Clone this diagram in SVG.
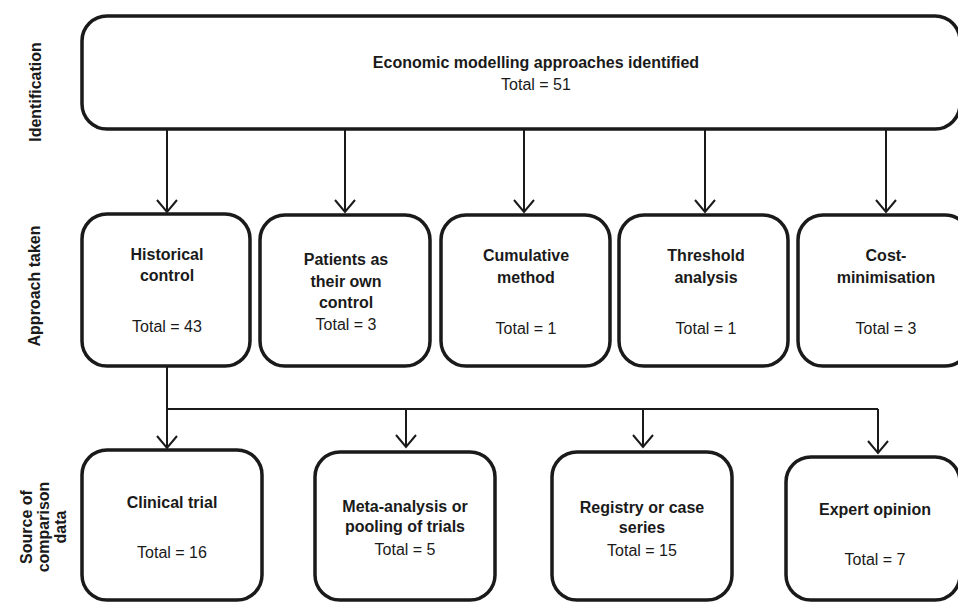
<svg xmlns="http://www.w3.org/2000/svg" width="958" height="603" viewBox="0 0 958 603">
<defs>
<style>
.box{fill:#fff;stroke:#1a1a1a;stroke-width:3.5}
.ln{fill:none;stroke:#1a1a1a;stroke-width:2}
text{font-family:"Liberation Sans",Arial,sans-serif;font-size:16px;fill:#1a1a1a;text-anchor:middle}
.b{font-weight:bold}
</style>
<marker id="ah" viewBox="0 0 16 24" refX="14" refY="12" markerWidth="16" markerHeight="24" markerUnits="userSpaceOnUse" orient="auto">
<path d="M2,2 L14,12 L2,22" fill="none" stroke="#1a1a1a" stroke-width="2"/>
</marker>
</defs>
<rect width="958" height="603" fill="#fff"/>
<g id="side-labels">
<text class="b" transform="translate(41,92) rotate(-90)">Identification</text>
<text class="b" transform="translate(40,286) rotate(-90)">Approach taken</text>
<text class="b" transform="translate(32,527) rotate(-90)">Source of</text>
<text class="b" transform="translate(49,527) rotate(-90)">comparison</text>
<text class="b" transform="translate(66,527) rotate(-90)">data</text>
</g>
<g id="connectors">
<line class="ln" x1="167" y1="129" x2="167" y2="212" marker-end="url(#ah)"/>
<line class="ln" x1="345" y1="129" x2="345" y2="212" marker-end="url(#ah)"/>
<line class="ln" x1="524" y1="129" x2="524" y2="212" marker-end="url(#ah)"/>
<line class="ln" x1="705" y1="129" x2="705" y2="212" marker-end="url(#ah)"/>
<line class="ln" x1="886" y1="129" x2="886" y2="212" marker-end="url(#ah)"/>
<polyline class="ln" points="167,366 167,409 878,409"/>
<line class="ln" x1="167" y1="409" x2="167" y2="448" marker-end="url(#ah)"/>
<line class="ln" x1="406" y1="409" x2="406" y2="447" marker-end="url(#ah)"/>
<line class="ln" x1="643" y1="409" x2="643" y2="447" marker-end="url(#ah)"/>
<line class="ln" x1="878" y1="409" x2="878" y2="453" marker-end="url(#ah)"/>
</g>
<g id="n-identified">
<rect class="box" x="82" y="16" width="878" height="113" rx="25"/>
<text class="b" x="536" y="68">Economic modelling approaches identified</text>
<text x="536" y="90">Total = 51</text>
</g>
<g id="n-historical">
<rect class="box" x="82" y="214" width="168" height="152" rx="25"/>
<text class="b" x="167" y="260">Historical</text>
<text class="b" x="167" y="281">control</text>
<text x="167" y="332">Total = 43</text>
</g>
<g id="n-patients">
<rect class="box" x="260" y="215" width="170" height="151" rx="25"/>
<text class="b" x="346" y="265">Patients as</text>
<text class="b" x="346" y="287">their own</text>
<text class="b" x="346" y="308">control</text>
<text x="346" y="330">Total = 3</text>
</g>
<g id="n-cumulative">
<rect class="box" x="441" y="215" width="169" height="151" rx="25"/>
<text class="b" x="526" y="261">Cumulative</text>
<text class="b" x="526" y="283">method</text>
<text x="526" y="334">Total = 1</text>
</g>
<g id="n-threshold">
<rect class="box" x="619" y="215" width="169" height="151" rx="25"/>
<text class="b" x="706" y="261">Threshold</text>
<text class="b" x="706" y="283">analysis</text>
<text x="706" y="334">Total = 1</text>
</g>
<g id="n-costmin">
<rect class="box" x="798" y="215" width="172" height="151" rx="25"/>
<text class="b" x="886" y="261">Cost-</text>
<text class="b" x="886" y="283">minimisation</text>
<text x="886" y="334">Total = 3</text>
</g>
<g id="n-clinical">
<rect class="box" x="82" y="450" width="180" height="150" rx="25"/>
<text class="b" x="172" y="508">Clinical trial</text>
<text x="172" y="558">Total = 16</text>
</g>
<g id="n-meta">
<rect class="box" x="315" y="452" width="180" height="148" rx="25"/>
<text class="b" x="405" y="512">Meta-analysis or</text>
<text class="b" x="405" y="532">pooling of trials</text>
<text x="405" y="555">Total = 5</text>
</g>
<g id="n-registry">
<rect class="box" x="552" y="452" width="180" height="148" rx="25"/>
<text class="b" x="642" y="513">Registry or case</text>
<text class="b" x="642" y="533">series</text>
<text x="642" y="556">Total = 15</text>
</g>
<g id="n-expert">
<rect class="box" x="786" y="457" width="174" height="143" rx="25"/>
<text class="b" x="875" y="515">Expert opinion</text>
<text x="875" y="565">Total = 7</text>
</g>
</svg>
